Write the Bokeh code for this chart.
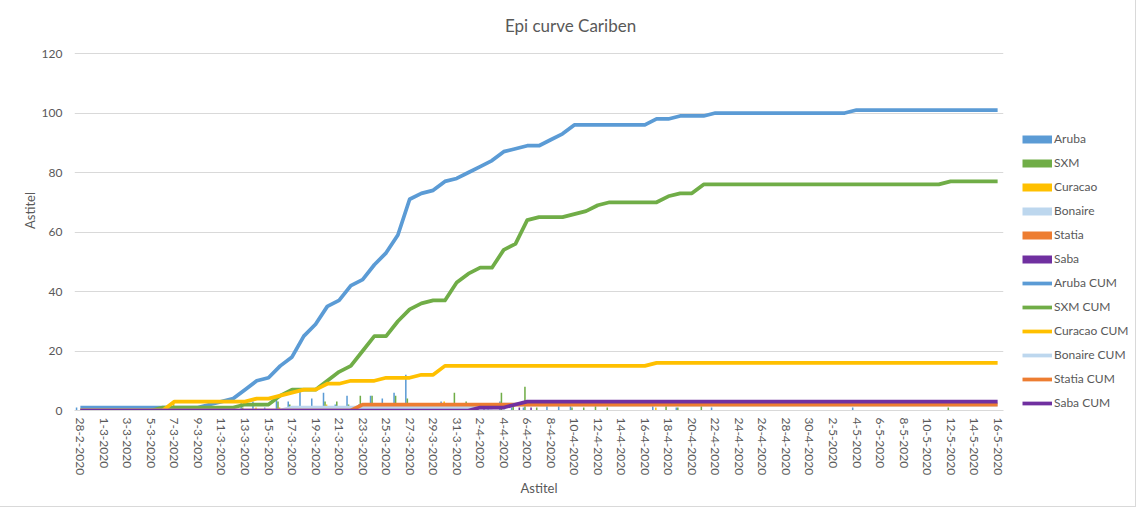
import numpy as np
from bokeh.plotting import figure
from bokeh.layouts import row
from bokeh.models import ColumnDataSource, Range1d, FixedTicker, Legend, LegendItem, Label
from bokeh.transform import dodge
from bokeh.embed import file_html
from bokeh.resources import INLINE

dates = ["28-2-2020", "29-2-2020",
         "1-3-2020", "2-3-2020", "3-3-2020", "4-3-2020", "5-3-2020", "6-3-2020", "7-3-2020", "8-3-2020",
         "9-3-2020", "10-3-2020", "11-3-2020", "12-3-2020", "13-3-2020", "14-3-2020", "15-3-2020", "16-3-2020",
         "17-3-2020", "18-3-2020", "19-3-2020", "20-3-2020", "21-3-2020", "22-3-2020", "23-3-2020", "24-3-2020",
         "25-3-2020", "26-3-2020", "27-3-2020", "28-3-2020", "29-3-2020", "30-3-2020", "31-3-2020",
         "1-4-2020", "2-4-2020", "3-4-2020", "4-4-2020", "5-4-2020", "6-4-2020", "7-4-2020", "8-4-2020",
         "9-4-2020", "10-4-2020", "11-4-2020", "12-4-2020", "13-4-2020", "14-4-2020", "15-4-2020", "16-4-2020",
         "17-4-2020", "18-4-2020", "19-4-2020", "20-4-2020", "21-4-2020", "22-4-2020", "23-4-2020", "24-4-2020",
         "25-4-2020", "26-4-2020", "27-4-2020", "28-4-2020", "29-4-2020", "30-4-2020",
         "1-5-2020", "2-5-2020", "3-5-2020", "4-5-2020", "5-5-2020", "6-5-2020", "7-5-2020", "8-5-2020",
         "9-5-2020", "10-5-2020", "11-5-2020", "12-5-2020", "13-5-2020", "14-5-2020", "15-5-2020", "16-5-2020"]

# daily new cases (bars)
aruba = [1, 0, 0, 0, 0, 0, 0, 0, 0, 0,
         0, 1, 1, 1, 3, 3, 1, 4, 3, 7,
         4, 6, 2, 5, 2, 5, 4, 6, 12, 2,
         1, 3, 1, 2, 2, 2, 3, 1, 1, 0,
         2, 2, 3, 0, 0, 0, 0, 0, 0, 2,
         0, 1, 0, 0, 1, 0, 0, 0, 0, 0,
         0, 0, 0, 0, 0, 0, 1, 0, 0, 0,
         0, 0, 0, 0, 0, 0, 0, 0, 0]
sxm = [0, 0, 0, 0, 0, 0, 0, 1, 0, 0,
       0, 0, 0, 0, 1, 0, 0, 3, 2, 0,
       0, 3, 3, 2, 5, 5, 0, 5, 4, 2,
       1, 0, 6, 3, 2, 0, 6, 2, 8, 1,
       0, 0, 1, 1, 2, 1, 0, 0, 0, 0,
       2, 1, 0, 3, 0, 0, 0, 0, 0, 0,
       0, 0, 0, 0, 0, 0, 0, 0, 0, 0,
       0, 0, 0, 0, 1, 0, 0, 0, 0]
curacao = [0, 0, 0, 0, 0, 0, 0, 0, 3, 0,
           0, 0, 0, 0, 0, 1, 0, 1, 1, 1,
           0, 2, 0, 1, 0, 0, 1, 0, 0, 1,
           0, 3, 0, 0, 0, 0, 0, 0, 0, 0,
           0, 0, 0, 0, 0, 0, 0, 0, 0, 1,
           0, 0, 0, 0, 0, 0, 0, 0, 0, 0,
           0, 0, 0, 0, 0, 0, 0, 0, 0, 0,
           0, 0, 0, 0, 0, 0, 0, 0, 0]
bonaire = [0, 0, 0, 0, 0, 0, 0, 0, 0, 0,
           0, 0, 0, 0, 0, 0, 0, 0, 1, 0,
           0, 0, 0, 0, 0, 0, 0, 0, 0, 0,
           0, 0, 0, 0, 0, 0, 1, 0, 0, 0,
           0, 0, 0, 0, 0, 0, 0, 0, 0, 0,
           0, 0, 0, 0, 0, 0, 0, 0, 0, 0,
           0, 0, 0, 0, 0, 0, 0, 0, 0, 0,
           0, 0, 0, 0, 0, 0, 0, 0, 0]
statia = [0, 0, 0, 0, 0, 0, 0, 0, 0, 0,
          0, 0, 0, 0, 0, 0, 0, 0, 0, 0,
          0, 0, 0, 0, 2, 0, 0, 0, 0, 0,
          0, 0, 0, 0, 0, 0, 0, 0, 0, 0,
          0, 0, 0, 0, 0, 0, 0, 0, 0, 0,
          0, 0, 0, 0, 0, 0, 0, 0, 0, 0,
          0, 0, 0, 0, 0, 0, 0, 0, 0, 0,
          0, 0, 0, 0, 0, 0, 0, 0, 0]
saba = [0, 0, 0, 0, 0, 0, 0, 0, 0, 0,
        0, 0, 0, 0, 0, 0, 0, 0, 0, 0,
        0, 0, 0, 0, 0, 0, 0, 0, 0, 0,
        0, 0, 0, 0, 1, 0, 0, 1, 1, 0,
        0, 0, 0, 0, 0, 0, 0, 0, 0, 0,
        0, 0, 0, 0, 0, 0, 0, 0, 0, 0,
        0, 0, 0, 0, 0, 0, 0, 0, 0, 0,
        0, 0, 0, 0, 0, 0, 0, 0, 0]

# cumulative cases (lines)
aruba_cum = [1, 1, 1, 1, 1, 1, 1, 1, 1, 1,
             1, 2, 3, 4, 7, 10, 11, 15, 18, 25,
             29, 35, 37, 42, 44, 49, 53, 59, 71, 73,
             74, 77, 78, 80, 82, 84, 87, 88, 89, 89,
             91, 93, 96, 96, 96, 96, 96, 96, 96, 98,
             98, 99, 99, 99, 100, 100, 100, 100, 100, 100,
             100, 100, 100, 100, 100, 100, 101, 101, 101, 101,
             101, 101, 101, 101, 101, 101, 101, 101, 101]
sxm_cum = [0, 0, 0, 0, 0, 0, 0, 1, 1, 1,
           1, 1, 1, 1, 2, 2, 2, 5, 7, 7,
           7, 10, 13, 15, 20, 25, 25, 30, 34, 36,
           37, 37, 43, 46, 48, 48, 54, 56, 64, 65,
           65, 65, 66, 67, 69, 70, 70, 70, 70, 70,
           72, 73, 73, 76, 76, 76, 76, 76, 76, 76,
           76, 76, 76, 76, 76, 76, 76, 76, 76, 76,
           76, 76, 76, 76, 77, 77, 77, 77, 77]
curacao_cum = [0, 0, 0, 0, 0, 0, 0, 0, 3, 3,
               3, 3, 3, 3, 3, 4, 4, 5, 6, 7,
               7, 9, 9, 10, 10, 10, 11, 11, 11, 12,
               12, 15, 15, 15, 15, 15, 15, 15, 15, 15,
               15, 15, 15, 15, 15, 15, 15, 15, 15, 16,
               16, 16, 16, 16, 16, 16, 16, 16, 16, 16,
               16, 16, 16, 16, 16, 16, 16, 16, 16, 16,
               16, 16, 16, 16, 16, 16, 16, 16, 16]
bonaire_cum = [0, 0, 0, 0, 0, 0, 0, 0, 0, 0,
               0, 0, 0, 0, 0, 0, 0, 0, 1, 1,
               1, 1, 1, 1, 1, 1, 1, 1, 1, 1,
               1, 1, 1, 1, 1, 1, 2, 2, 2, 2,
               2, 2, 2, 2, 2, 2, 2, 2, 2, 2,
               2, 2, 2, 2, 2, 2, 2, 2, 2, 2,
               2, 2, 2, 2, 2, 2, 2, 2, 2, 2,
               2, 2, 2, 2, 2, 2, 2, 2, 2]
statia_cum = [0, 0, 0, 0, 0, 0, 0, 0, 0, 0,
              0, 0, 0, 0, 0, 0, 0, 0, 0, 0,
              0, 0, 0, 0, 2, 2, 2, 2, 2, 2,
              2, 2, 2, 2, 2, 2, 2, 2, 2, 2,
              2, 2, 2, 2, 2, 2, 2, 2, 2, 2,
              2, 2, 2, 2, 2, 2, 2, 2, 2, 2,
              2, 2, 2, 2, 2, 2, 2, 2, 2, 2,
              2, 2, 2, 2, 2, 2, 2, 2, 2]
saba_cum = [0, 0, 0, 0, 0, 0, 0, 0, 0, 0,
            0, 0, 0, 0, 0, 0, 0, 0, 0, 0,
            0, 0, 0, 0, 0, 0, 0, 0, 0, 0,
            0, 0, 0, 0, 1, 1, 1, 2, 3, 3,
            3, 3, 3, 3, 3, 3, 3, 3, 3, 3,
            3, 3, 3, 3, 3, 3, 3, 3, 3, 3,
            3, 3, 3, 3, 3, 3, 3, 3, 3, 3,
            3, 3, 3, 3, 3, 3, 3, 3, 3]

y_ticks = [0, 20, 40, 60, 80, 100, 120]
title_text = "Epi curve Cariben"
axis_title = "Astitel"

names = ["Aruba", "SXM", "Curacao", "Bonaire", "Statia", "Saba"]
colors = ["#5B9BD5", "#70AD47", "#FFC000", "#BDD7EE", "#ED7D31", "#7030A0"]
daily_keys = ["aruba", "sxm", "curacao", "bonaire", "statia", "saba"]
cum_keys = ["aruba_cum", "sxm_cum", "curacao_cum", "bonaire_cum", "statia_cum", "saba_cum"]

idx = list(range(len(dates)))
src = ColumnDataSource(dict(idx=idx, date=dates,
                            aruba=aruba, sxm=sxm, curacao=curacao, bonaire=bonaire,
                            statia=statia, saba=saba,
                            aruba_cum=aruba_cum, sxm_cum=sxm_cum, curacao_cum=curacao_cum,
                            bonaire_cum=bonaire_cum, statia_cum=statia_cum, saba_cum=saba_cum))

FONT = "Lato"
GREY = "#595959"

# layout (pixels): plot frame spans x 74..1003, y 10..410; value 120 sits at y 53
W_TOTAL, H = 1132, 503
W = 1013
FR_L, FR_R, FR_T, FR_B, Y120 = 74, 1003, 10, 410, 53
px_per_unit = (FR_B - Y120) / 120.0
y_top = (FR_B - FR_T) / px_per_unit

p = figure(width=W, height=H,
           x_range=Range1d(-0.5, len(dates) - 0.5), y_range=Range1d(0, y_top),
           output_backend="svg", toolbar_location=None,
           min_border_left=FR_L, min_border_right=W - FR_R,
           min_border_top=FR_T, min_border_bottom=H - FR_B)
p.outline_line_color = None
p.background_fill_color = "white"

# chart title, centred on the chart area (x 570, y 25)
p.add_layout(Label(x=(570 - FR_L) / ((FR_R - FR_L) / len(dates)) - 0.5,
                   y=(FR_B - 25) / px_per_unit,
                   x_units="data", y_units="data", text=title_text,
                   text_align="center", text_baseline="middle", text_font=FONT,
                   text_font_size="17px", text_color=GREY))

bar_w = 0.13
for k, (key, c) in enumerate(zip(daily_keys, colors)):
    p.vbar(x=dodge("idx", (k - 2.5) * bar_w, range=p.x_range), top=key, bottom=0,
           width=bar_w, source=src, fill_color=c, line_color=None)

for key, c in zip(cum_keys, colors):
    p.line("idx", key, source=src, line_color=c, line_width=3.75, line_join="round")

# axes
p.xgrid.visible = False
p.yaxis.ticker = FixedTicker(ticks=y_ticks)
p.ygrid.grid_line_color = "#D9D9D9"
p.ygrid.grid_line_width = 1

p.xaxis.ticker = FixedTicker(ticks=idx[::2])
p.xaxis.major_label_overrides = {i: dates[i] for i in idx[::2]}
p.xaxis.major_label_orientation = "vertical"
p.xaxis.major_tick_out = 0
p.xaxis.major_tick_in = 0
p.xaxis.minor_tick_out = 0
p.xaxis.minor_tick_in = 0
p.xaxis.axis_line_color = "#D9D9D9"
p.xaxis.major_label_standoff = 7
p.xaxis.axis_label = axis_title
p.xaxis.axis_label_standoff = 2

p.yaxis.axis_line_color = None
p.yaxis.major_tick_out = 0
p.yaxis.major_tick_in = 0
p.yaxis.minor_tick_out = 0
p.yaxis.minor_tick_in = 0
p.yaxis.major_label_standoff = 12
p.yaxis.axis_label = axis_title
p.yaxis.axis_label_standoff = 1

for ax in (p.xaxis, p.yaxis):
    ax.major_label_text_font = FONT
    ax.major_label_text_font_size = "12px"
    ax.major_label_text_color = GREY
    ax.axis_label_text_font = FONT
    ax.axis_label_text_font_size = "13px"
    ax.axis_label_text_font_style = "normal"
    ax.axis_label_text_color = GREY

# legend panel on the right (its own small figure, same series styling);
# in the row its frame is aligned with the main frame (y 10..410)
lw = W_TOTAL - W
pl = figure(width=lw, height=H, x_range=Range1d(0, 1), y_range=Range1d(0, 1),
            output_backend="svg", toolbar_location=None,
            x_axis_location=None, y_axis_location=None,
            min_border_left=0, min_border_right=0, min_border_top=0, min_border_bottom=0)
pl.grid.visible = False
pl.outline_line_color = None

items = []
for n, c in zip(names, colors):
    s = pl.line(x=[np.nan], y=[np.nan], line_color=c, line_width=8, line_cap="butt")
    items.append(LegendItem(label=n, renderers=[s]))
for n, c in zip(names, colors):
    s = pl.line(x=[np.nan], y=[np.nan], line_color=c, line_width=3.75)
    items.append(LegendItem(label=n + " CUM", renderers=[s]))

legend = Legend(items=items, location=(1022 - W, FR_B - 412.5), orientation="vertical",
                padding=0, margin=0, spacing=4,
                glyph_width=30, glyph_height=20, label_height=20, label_standoff=2,
                label_text_font=FONT, label_text_font_size="12px", label_text_color=GREY,
                border_line_color=None, background_fill_alpha=0)
pl.add_layout(legend)

layout = row(p, pl)
layout.styles = {"outline": "1px solid #D9D9D9", "outline-offset": "3px"}

open("out.html", "w").write(file_html(layout, INLINE))
